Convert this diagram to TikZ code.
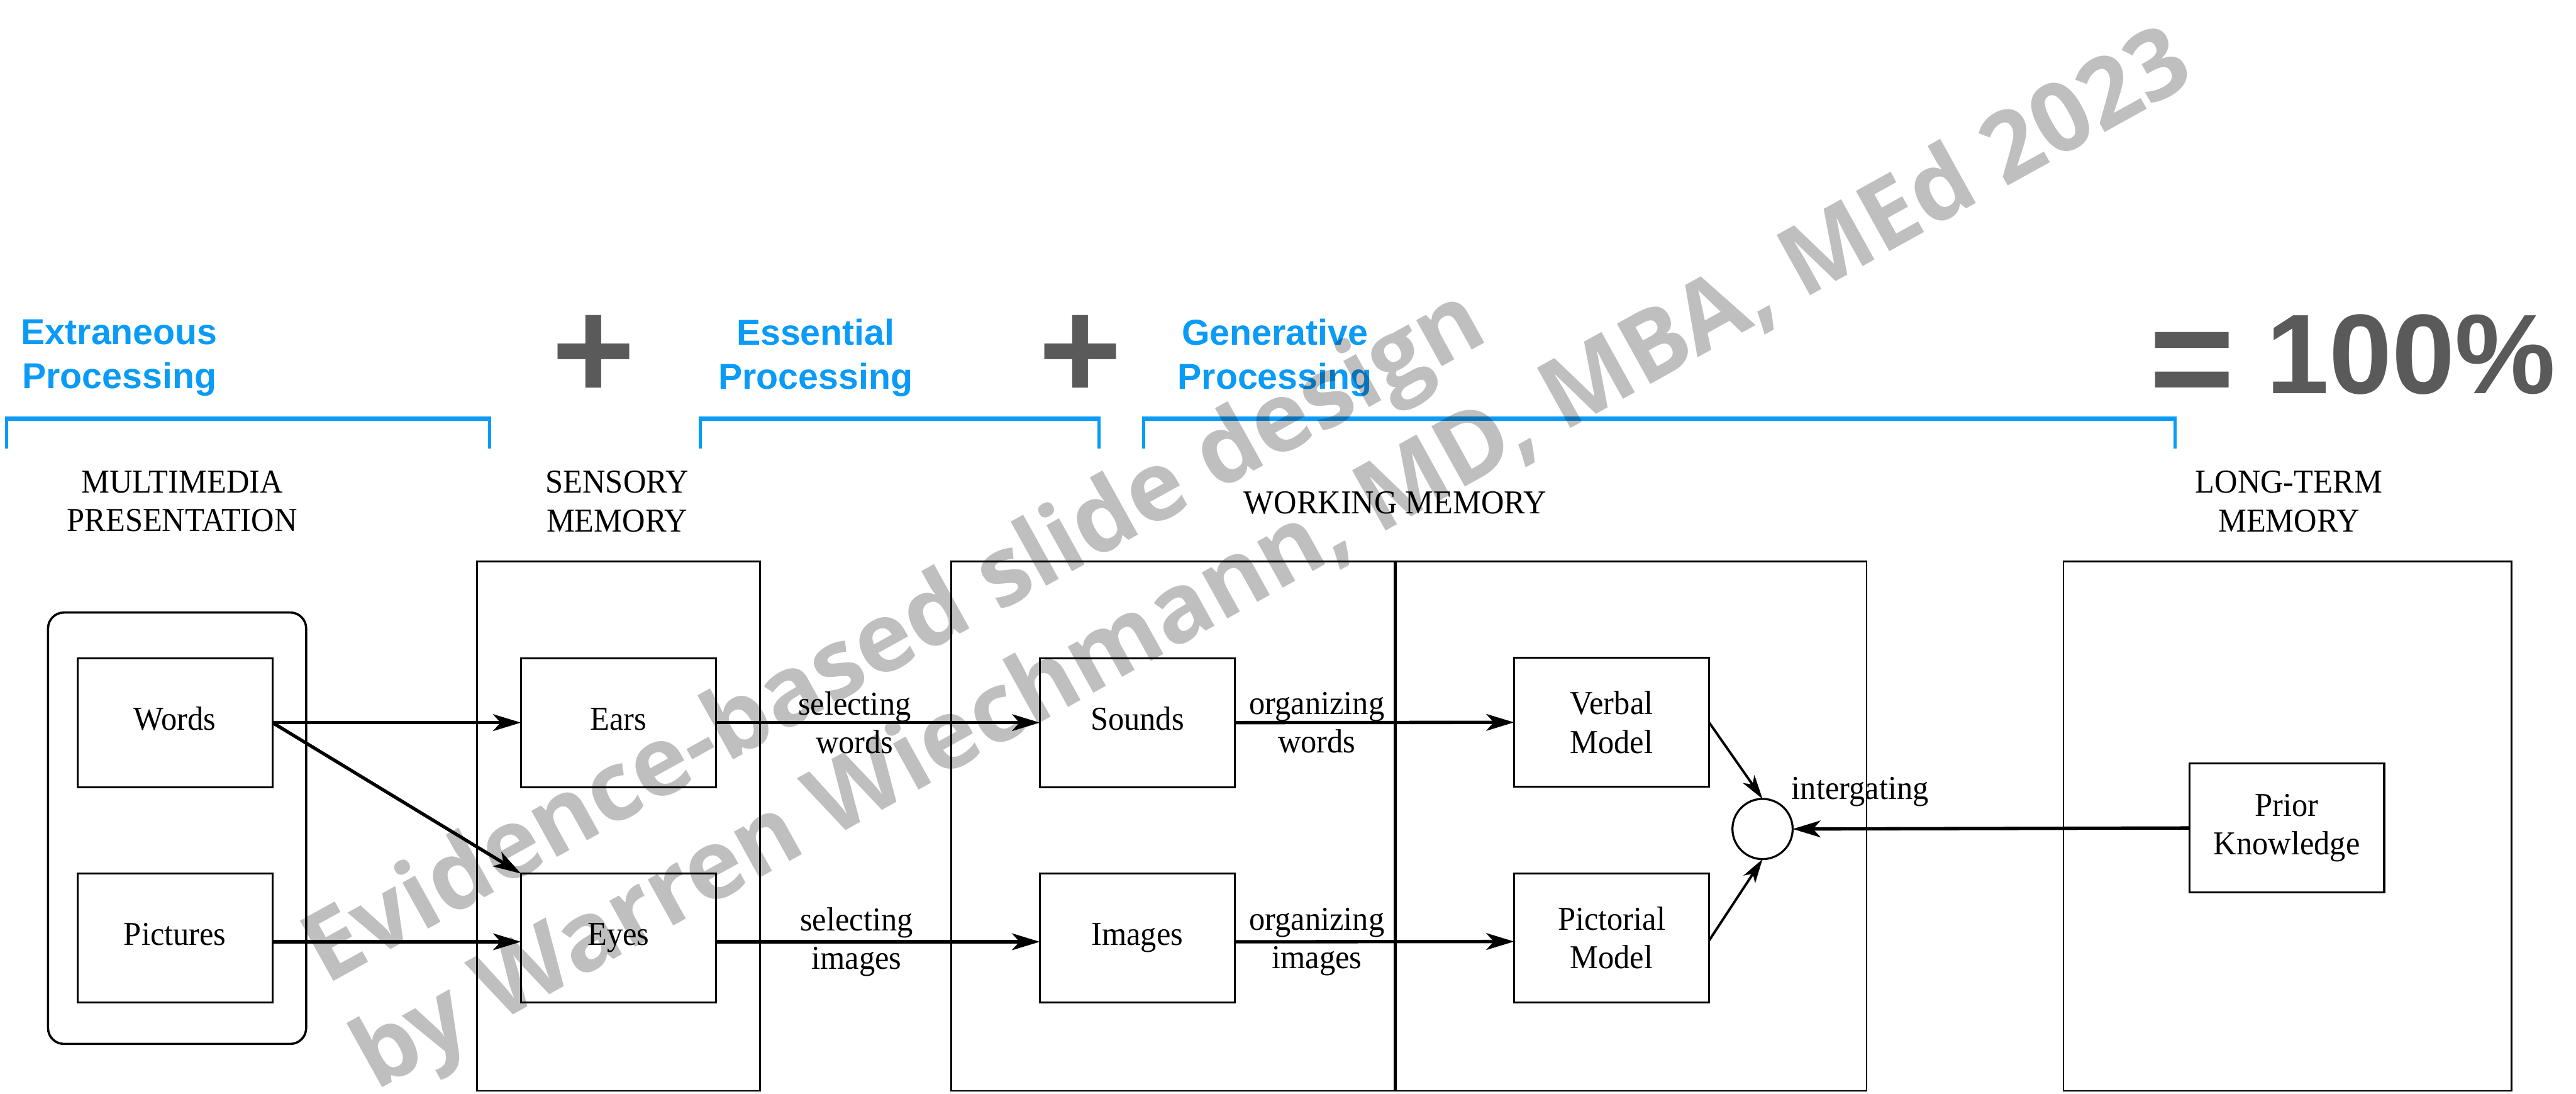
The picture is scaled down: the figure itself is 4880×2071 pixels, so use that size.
\documentclass[tikz,border=0pt]{standalone}
\usepackage{fontspec}
\setmainfont{Liberation Serif}[FakeStretch=0.95]
\newfontfamily\hvfont{Liberation Sans}
\newfontfamily\wmfont{Open Sans}
\usetikzlibrary{arrows.meta}
\definecolor{brblue}{HTML}{0A9BF7}
\definecolor{dgray}{HTML}{5A5A5A}
\begin{document}
\begin{tikzpicture}[x=0.01cm, y=-0.01cm,
  every node/.style={inner sep=0pt, outer sep=0pt},
  lbl/.style={font=\fontsize{18pt}{20.8pt}\selectfont, align=center},
  bluelbl/.style={font=\hvfont\bfseries\fontsize{19.4pt}{23.6pt}\selectfont, text=brblue, align=center},
  plussign/.style={font=\hvfont\bfseries\fontsize{77pt}{77pt}\selectfont, text=dgray},
  box/.style={draw, line width=1.1pt, minimum width=3.69cm, minimum height=2.44cm, lbl},
  boxone/.style={box, text height=11.9pt, text depth=4pt},
  membox/.style={draw, line width=0.9pt},
  brside/.style={draw=brblue, line width=1.7pt},
  brtop/.style={draw=brblue, line width=2.6pt},
  arr/.style={line width=1.8pt, -{Stealth[length=15pt, width=9pt, inset=4pt]}},
  arrsmall/.style={line width=1.3pt, -{Stealth[length=13pt, width=7.5pt, inset=3.5pt]}},
  wm/.style={font=\wmfont\bfseries\fontsize{52pt}{60pt}\selectfont, text=black, text opacity=0.25}
]
\useasboundingbox (0,0) rectangle (4880,2071);
\fill[white] (0,0) rectangle (4880,2071);
\clip (0,0) rectangle (4880,2071);

% top headings
\node[bluelbl] (hext) at (226,678) {Extraneous\\Processing};
\node[bluelbl] (hess) at (1545,678) {Essential\\Processing};
\node[bluelbl] (hgen) at (2415,678) {Generative\\Processing};
\node[plussign] (plusa) at (1125,676) {+};
\node[plussign] (plusb) at (2047,676) {+};
\node[font=\hvfont\bfseries\fontsize{61pt}{61pt}\selectfont, text=dgray, anchor=base east] (total) at (4842,745)
  {\raisebox{-8.2pt}{\fontsize{79pt}{79pt}\selectfont =} 100\%};

% brackets
\draw[brside] (12,850) -- (12,793);
\draw[brside] (928,850) -- (928,793);
\draw[brtop] (9,793) -- (931,793);
\draw[brside] (1327,850) -- (1327,793);
\draw[brside] (2082,850) -- (2082,793);
\draw[brtop] (1324,793) -- (2085,793);
\draw[brside] (2166,850) -- (2166,793);
\draw[brside] (4121,850) -- (4121,793);
\draw[brtop] (2163,793) -- (4124,793);

% section titles
\node[lbl] (tmm) at (345,949.5) {MULTIMEDIA\\PRESENTATION};
\node[lbl] (tsm) at (1169,949.5) {SENSORY\\MEMORY};
\node[lbl] (twm) at (2643,952) {WORKING MEMORY};
\node[lbl] (tltm) at (4336,949.5) {LONG-TERM\\MEMORY};

% containers
\draw[line width=1.2pt, rounded corners=0.3cm] (91,1160) rectangle (580,1977);
\draw[membox] (904,1063) rectangle (1440,2066);
\draw[membox] (1802,1063) rectangle (3536,2066);
\draw[line width=1.7pt] (2643,1063) -- (2643,2066);
\draw[membox] (3909,1063) rectangle (4758,2066);

% boxes
\node[boxone] (words) at (331.5,1368.5) {Words};
\node[boxone] (pictures) at (331.5,1776.5) {Pictures};
\node[boxone] (ears) at (1171.5,1368.5) {Ears};
\node[boxone] (eyes) at (1171.5,1776.5) {Eyes};
\node[boxone] (sounds) at (2154.5,1368.5) {Sounds};
\node[boxone] (images) at (2154.5,1776.5) {Images};
\node[box] (verbal) at (3053,1368) {Verbal\\Model};
\node[box] (pictorial) at (3053,1776) {Pictorial\\Model};
\node[box] (prior) at (4332,1568) {Prior\\Knowledge};
\node[circle, draw, line width=1.1pt, minimum size=1.14cm] (integ) at (3339,1570) {};
\node[lbl, anchor=base west] (tint) at (3394,1514) {intergating};

% connectors
\draw[arr] (words.east) -- (ears.west);
\draw[arr] (words.east) -- (eyes.north west);
\draw[arr] ([yshift=-2pt]pictures.east) -- ([yshift=-2pt]eyes.west);
\draw[arr] (ears.east) -- node[lbl, pos=0.428] (lsw) {selecting\\words} (sounds.west);
\draw[arr] ([yshift=-2pt]eyes.east) -- node[lbl, pos=0.434] (lsi) {selecting\\images} ([yshift=-2pt]images.west);
\draw[arr] (sounds.east) -- node[lbl, pos=0.294] (low) {organizing\\words} (verbal.west);
\draw[arr] ([yshift=-2pt]images.east) -- node[lbl, pos=0.294] (loi) {organizing\\images} ([yshift=-2pt]pictorial.west);
\draw[arrsmall] (verbal.east) -- (integ.north);
\draw[arrsmall] ([yshift=-1.5pt]pictorial.east) -- (integ.south);
\draw[arr] (prior.west) -- (integ.east);

% watermark
\node[wm, anchor=base west, rotate=29] (wma) at (618,1866) {Evidence-based slide design};
\node[wm, anchor=base west, rotate=29] (wmb) at (712,2066) {by Warren Wiechmann, MD, MBA, MEd 2023};
\end{tikzpicture}
\end{document}
